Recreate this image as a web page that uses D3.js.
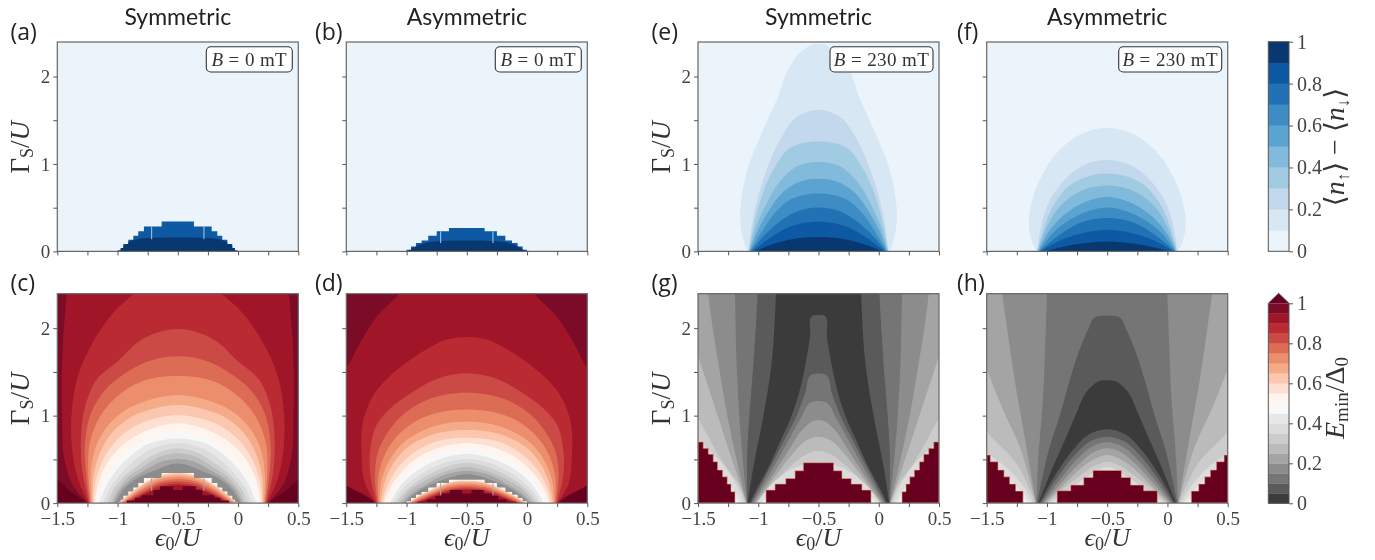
<!DOCTYPE html>
<html><head><meta charset="utf-8">
<script src="https://cdn.jsdelivr.net/npm/d3@7"></script>
<style>
html,body{margin:0;padding:0;background:#fff}
svg{display:block;filter:blur(0.35px)}
.serif{font-family:"Liberation Serif","DejaVu Serif",serif}
.sans{font-family:"Open Sans",sans-serif}
.title{font-family:"Lato",sans-serif}
</style></head><body><svg id="c" width="1375" height="560"></svg>
<script>
// ---------- tick labels & text ----------
const xTicks=[-1.5,-1.25,-1,-0.75,-0.5,-0.25,0,0.25,0.5];
const xLabelled=[-1.5,-1,-0.5,0,0.5];
const yTicks=[0,0.5,1,1.5,2];
const yLabelled=[0,1,2];
const cbarTicks=[0,0.2,0.4,0.6,0.8,1];
const titles=["Symmetric","Asymmetric","Symmetric","Asymmetric"];
const fieldLabels=["B","0 mT","230 mT"];
// ---------- colour levels ----------
const bluesPalette=["#ebf3fb","#d8e7f4","#c3d7ed","#a0cbe2","#82badb","#5ba3d0","#3d8cc3","#2171b5","#0e59a3","#08386f"];
const redGreyPalette=["#3b3b3b","#5a5a5a","#757575","#8c8c8c","#a4a4a4","#bbbbbb","#cccccc","#dcdcdc","#e8e8e8","#f8f8f8","#fff4ee","#fde0d1","#fbc8af","#f5ab88","#ec8e6c","#dd6c55","#cb4a45","#b92a33","#a01527","#7c0b27"];
const overColour="#67001f";
// ---------- spin polarisation: B = 0 (stepped dome and cap), values [eps0/U, GammaS/U] left half ----------
const domeA=[[-1.0,.01],[-.974,.038],[-.952,.084],[-.911,.133],[-.869,.179],[-.828,.229],[-.781,.286],[-.634,.343]];
const capA=[[-1.0,0],[-.93,.09],[-.85,.135],[-.7,.155],[-.5,.16]];
const domeB=[[-1.0,.02],[-.963,.057],[-.922,.095],[-.875,.126],[-.82,.179],[-.75,.229],[-.648,.267]];
const capB=[[-1.0,0],[-.92,.06],[-.84,.1],[-.7,.12],[-.5,.126]];
const sliverEps=[-.717,-.283];
// ---------- spin polarisation: B = 230 mT ----------
const contoursE=[
[.15,[[-1.091,0],[-1.124,.133],[-1.151,.40],[-1.138,.629],[-1.082,.971],[-.972,1.352],[-.847,1.733],[-.737,2.114],[-.626,2.305],[-.5,2.377]]],
[.25,[[-1.082,0],[-1.055,.286],[-1.008,.59],[-.93,.933],[-.82,1.276],[-.681,1.535],[-.5,1.619]]],
[.35,[[-1.08,0],[-1.04,.286],[-.972,.629],[-.875,.933],[-.737,1.181],[-.5,1.257]]],
[.45,[[-1.075,0],[-1.027,.248],[-.944,.514],[-.82,.8],[-.68,.971],[-.5,1.021]]],
[.55,[[-1.07,0],[-1.013,.21],[-.917,.457],[-.79,.686],[-.65,.8],[-.5,.83]]],
[.65,[[-1.067,0],[-.985,.19],[-.875,.419],[-.737,.59],[-.5,.663]]],
[.75,[[-1.06,0],[-.957,.171],[-.82,.343],[-.68,.457],[-.5,.503]]],
[.85,[[-1.05,0],[-.902,.152],[-.764,.267],[-.5,.339]]],
[.95,[[-1.03,0],[-.875,.084],[-.71,.141],[-.5,.164]]]];
const contoursF=[
[.15,[[-1.088,0],[-1.138,.171],[-1.151,.324],[-1.129,.552],[-1.046,.857],[-.894,1.162],[-.728,1.333],[-.5,1.413]]],
[.25,[[-1.082,0],[-1.06,.21],[-1.0,.514],[-.867,.8],[-.70,.983],[-.5,1.044]]],
[.35,[[-1.08,0],[-1.03,.248],[-.936,.552],[-.784,.781],[-.5,.891]]],
[.45,[[-1.077,0],[-1.01,.248],[-.894,.514],[-.728,.686],[-.5,.754]]],
[.55,[[-1.07,0],[-.983,.229],[-.839,.438],[-.673,.571],[-.5,.625]]],
[.65,[[-1.066,0],[-.95,.21],[-.81,.362],[-.5,.503]]],
[.75,[[-1.06,0],[-.894,.19],[-.728,.324],[-.5,.381]]],
[.85,[[-1.055,0],[-.84,.152],[-.673,.22],[-.5,.248]]],
[.95,[[-1.02,0],[-.784,.076],[-.5,.114]]]];
// ---------- minimum energy: B = 0 ----------
const contoursC=[
[.925,[[-1.25,0],[-1.37,.2],[-1.44,.5],[-1.46,1.0],[-1.46,1.6],[-1.44,2.1],[-1.40,2.5],[-1.2,2.9],[-.5,3.2]]],
[.875,[[-1.243,0],[-1.326,.263],[-1.379,.645],[-1.381,1.027],[-1.33,1.45],[-1.2,1.85],[-1.02,2.2],[-.855,2.4],[-.7,2.55],[-.5,2.62]]],
[.825,[[-1.237,0],[-1.29,.34],[-1.304,.72],[-1.27,1.1],[-1.17,1.42],[-1.0,1.62],[-.8,1.87],[-.5,1.99]]],
[.775,[[-1.229,0],[-1.262,.34],[-1.268,.72],[-1.215,1.05],[-1.1,1.3],[-.95,1.47],[-.75,1.62],[-.5,1.68]]],
[.725,[[-1.223,0],[-1.243,.34],[-1.229,.7],[-1.15,.98],[-1.02,1.2],[-.82,1.38],[-.5,1.454]]],
[.675,[[-1.215,0],[-1.223,.30],[-1.187,.62],[-1.09,.87],[-.94,1.06],[-.74,1.18],[-.5,1.237]]],
[.625,[[-1.207,0],[-1.2,.3],[-1.151,.56],[-1.05,.8],[-.88,.99],[-.7,1.08],[-.5,1.122]]],
[.575,[[-1.2,0],[-1.18,.263],[-1.118,.5],[-1.008,.72],[-.83,.9],[-.65,.98],[-.5,1.008]]],
[.525,[[-1.19,0],[-1.16,.225],[-1.09,.45],[-.97,.65],[-.79,.81],[-.62,.89],[-.5,.912]]],
[.475,[[-1.18,0],[-1.133,.187],[-1.05,.4],[-.925,.58],[-.75,.74],[-.6,.81],[-.5,.828]]],
[.425,[[-1.152,0],[-1.097,.187],[-1.008,.378],[-.883,.55],[-.73,.683],[-.5,.74]]],
[.375,[[-1.118,0],[-1.063,.168],[-.98,.32],[-.855,.492],[-.70,.626],[-.5,.683]]],
[.325,[[-1.085,0],[-1.035,.149],[-.947,.30],[-.828,.435],[-.672,.569],[-.5,.626]]],
[.275,[[-1.057,0],[-1.002,.149],[-.91,.30],[-.786,.416],[-.648,.53],[-.5,.569]]],
[.225,[[-1.035,0],[-.98,.149],[-.883,.282],[-.745,.397],[-.62,.48],[-.5,.504]]],
[.175,[[-1.02,0],[-.953,.149],[-.84,.282],[-.717,.359],[-.5,.454]]]];
const cornerC=[[-1.5,0],[-1.25,0],[-1.38,.12],[-1.5,.27]];
const innerC=[
[.625,[[-.99,0],[-.9,.11],[-.8,.21],[-.65,.315],[-.5,.345]]],
[.675,[[-.98,0],[-.89,.10],[-.79,.2],[-.65,.295],[-.5,.325]]],
[.725,[[-.97,0],[-.88,.09],[-.78,.185],[-.65,.27],[-.5,.3]]],
[.775,[[-.955,0],[-.87,.085],[-.77,.17],[-.65,.245],[-.5,.275]]],
[.825,[[-.94,0],[-.85,.08],[-.76,.15],[-.65,.22],[-.5,.25]]],
[.875,[[-.925,0],[-.84,.07],[-.75,.135],[-.65,.195],[-.5,.225]]],
[.925,[[-.91,0],[-.83,.065],[-.74,.125],[-.64,.17],[-.5,.205]]]];
const coreC=[[-.924,.03],[-.855,.06],[-.80,.09],[-.703,.15],[-.648,.194],[-.54,.15]];
const contoursD=[
[.925,[[-1.248,0],[-1.38,.12],[-1.55,.2],[-1.55,1.45],[-1.5,1.54],[-1.387,1.83],[-1.248,2.13],[-1.06,2.4],[-.9,2.8],[-.5,3.0]]],
[.875,[[-1.257,0],[-1.345,.225],[-1.373,.569],[-1.364,.912],[-1.29,1.2],[-1.179,1.4],[-1.027,1.58],[-.833,1.76],[-.667,1.87],[-.5,1.90]]],
[.825,[[-1.248,0],[-1.295,.263],[-1.298,.645],[-1.248,.9],[-1.138,1.08],[-.972,1.25],[-.751,1.42],[-.5,1.485]]],
[.775,[[-1.24,0],[-1.262,.30],[-1.234,.6],[-1.151,.82],[-1.013,1.03],[-.833,1.18],[-.5,1.263]]],
[.725,[[-1.234,0],[-1.234,.30],[-1.179,.56],[-1.082,.76],[-.944,.92],[-.75,1.03],[-.5,1.07]]],
[.675,[[-1.226,0],[-1.207,.263],[-1.138,.5],[-1.027,.69],[-.861,.83],[-.68,.91],[-.5,.93]]],
[.625,[[-1.215,0],[-1.18,.244],[-1.11,.454],[-1.0,.63],[-.833,.76],[-.5,.836]]],
[.575,[[-1.204,0],[-1.151,.225],[-1.077,.397],[-.958,.56],[-.806,.68],[-.5,.748]]],
[.525,[[-1.187,0],[-1.124,.206],[-1.04,.359],[-.93,.5],[-.778,.61],[-.5,.683]]],
[.475,[[-1.165,0],[-1.096,.187],[-1.005,.34],[-.889,.462],[-.737,.561],[-.5,.618]]],
[.425,[[-1.138,0],[-1.068,.168],[-.977,.30],[-.861,.416],[-.709,.511],[-.5,.561]]],
[.375,[[-1.11,0],[-1.04,.149],[-.944,.271],[-.833,.37],[-.681,.462],[-.5,.504]]],
[.325,[[-1.088,0],[-1.013,.13],[-.916,.244],[-.806,.332],[-.653,.424],[-.5,.462]]],
[.275,[[-1.06,0],[-.985,.13],[-.889,.225],[-.764,.313],[-.612,.389],[-.5,.416]]],
[.225,[[-1.04,0],[-.958,.111],[-.847,.206],[-.722,.302],[-.5,.37]]],
[.175,[[-1.021,0],[-.93,.111],[-.806,.206],[-.667,.282],[-.5,.332]]]];
const cornerD=[[-1.5,0],[-1.25,0],[-1.37,.1],[-1.5,.2]];
const innerD=[
[.625,[[-.99,0],[-.9,.08],[-.8,.15],[-.65,.235],[-.5,.255]]],
[.675,[[-.98,0],[-.89,.075],[-.79,.14],[-.65,.22],[-.5,.24]]],
[.725,[[-.97,0],[-.88,.07],[-.78,.13],[-.65,.2],[-.5,.22]]],
[.775,[[-.955,0],[-.87,.06],[-.77,.12],[-.65,.18],[-.5,.2]]],
[.825,[[-.94,0],[-.85,.055],[-.76,.11],[-.65,.16],[-.5,.18]]],
[.875,[[-.925,0],[-.84,.05],[-.75,.1],[-.65,.145],[-.5,.165]]],
[.925,[[-.91,0],[-.83,.045],[-.74,.09],[-.64,.13],[-.5,.15]]]];
const coreD=[[-.91,.015],[-.83,.04],[-.76,.08],[-.71,.11],[-.64,.149],[-.54,.11]];
// ---------- minimum energy: B = 230 mT ----------
const contoursG=[
[.425,[[-1.16,0],[-1.22,.1],[-1.35,.33],[-1.6,.8],[-1.7,3.5]]],
[.375,[[-1.135,0],[-1.19,.12],[-1.33,.4],[-1.6,.75],[-1.7,3.5]]],
[.325,[[-1.115,0],[-1.15,.12],[-1.28,.42],[-1.5,.72],[-1.6,.85],[-1.7,3.5]]],
[.275,[[-1.102,0],[-1.152,.187],[-1.29,.458],[-1.5,.97],[-1.6,1.2],[-1.7,3.5]]],
[.225,[[-1.096,0],[-1.207,.45],[-1.337,1.0],[-1.5,1.683],[-1.6,2.1],[-1.7,3.5]]],
[.175,[[-1.096,0],[-1.18,.5],[-1.257,1.0],[-1.331,1.6],[-1.367,1.9],[-1.414,2.393],[-1.43,2.8]]],
[.125,[[-1.093,0],[-1.138,.645],[-1.157,1.0],[-1.18,1.6],[-1.193,2.393],[-1.2,2.8]]],
[.075,[[-1.09,0],[-1.09,.645],[-1.074,1.0],[-1.04,1.6],[-1.005,2.393],[-.99,2.8]]],
[.025,[[-1.088,0],[-1.04,.416],[-.958,.99],[-.889,1.6],[-.853,2.393],[-.84,2.8]]],
[.075,[[-1.068,0],[-1.027,.12],[-.93,.37],[-.82,.7],[-.723,1.0],[-.654,1.3],[-.606,1.6],[-.57,1.9],[-.545,2.145],[-.5,2.15]]],
[.125,[[-1.057,0],[-.916,.37],[-.792,.7],[-.681,1.0],[-.612,1.25],[-.556,1.47],[-.5,1.481]]],
[.175,[[-1.046,0],[-.889,.37],[-.764,.68],[-.654,.95],[-.556,1.155],[-.5,1.168]]],
[.225,[[-1.035,0],[-.875,.33],[-.736,.63],[-.626,.85],[-.543,.94],[-.5,.95]]],
[.275,[[-1.02,0],[-.861,.3],[-.723,.55],[-.598,.72],[-.5,.76]]],
[.325,[[-1.0,0],[-.85,.26],[-.71,.45],[-.6,.56],[-.5,.595]]],
[.375,[[-1.013,0],[-.9,.2],[-.7,.4],[-.5,.47]]],
[.425,[[-.99,0],[-.9,.12],[-.5,.3]]],
[.475,[[-.97,0],[-.9,.07],[-.5,.2]]]];
const coreG=[[-.936,.149],[-.861,.218],[-.772,.282],[-.695,.37],[-.626,.462]];
const cornerG=[[-1.5,.70],[-1.456,.626],[-1.414,.56],[-1.373,.473],[-1.337,.378],[-1.295,.30],[-1.257,.218],[-1.226,.13],[-1.193,0]];
const contoursH=[
[.425,[[-1.16,0],[-1.22,.08],[-1.35,.25],[-1.6,.6],[-1.7,3.5]]],
[.375,[[-1.135,0],[-1.19,.1],[-1.33,.3],[-1.6,.65],[-1.7,3.5]]],
[.325,[[-1.115,0],[-1.15,.1],[-1.28,.33],[-1.6,.7],[-1.7,3.5]]],
[.275,[[-1.093,0],[-1.254,.454],[-1.5,.817],[-1.6,1.0],[-1.7,3.5]]],
[.225,[[-1.093,0],[-1.226,.645],[-1.364,1.065],[-1.5,1.53],[-1.6,1.9],[-1.7,3.5]]],
[.175,[[-1.09,0],[-1.185,.76],[-1.268,1.408],[-1.337,2.057],[-1.37,2.397],[-1.38,2.8]]],
[.125,[[-1.085,0],[-1.074,.454],[-1.032,1.218],[-1.01,1.98],[-.999,2.397],[-.99,2.8]]],
[.075,[[-1.082,0],[-.977,.645],[-.894,1.0],[-.811,1.408],[-.728,1.76],[-.66,1.98],[-.6,2.125],[-.5,2.141]]],
[.025,[[-1.071,0],[-.95,.416],[-.839,.76],[-.756,1.027],[-.659,1.294],[-.561,1.397],[-.5,1.405]]],
[.075,[[-1.06,0],[-.922,.34],[-.784,.607],[-.659,.779],[-.5,.844]]],
[.125,[[-1.049,0],[-.908,.30],[-.77,.55],[-.632,.714],[-.5,.76]]],
[.175,[[-1.038,0],[-.894,.263],[-.756,.492],[-.618,.653],[-.5,.695]]],
[.225,[[-1.027,0],[-.88,.23],[-.74,.44],[-.61,.585],[-.5,.626]]],
[.275,[[-1.01,0],[-.865,.2],[-.725,.39],[-.6,.51],[-.5,.55]]],
[.325,[[-1.0,0],[-.85,.18],[-.71,.33],[-.6,.43],[-.5,.473]]],
[.375,[[-.98,0],[-.85,.12],[-.7,.27],[-.5,.41]]],
[.425,[[-.965,0],[-.88,.05],[-.7,.2],[-.5,.3]]],
[.475,[[-.95,0],[-.9,.02],[-.7,.1],[-.5,.2]]]];
const coreH=[[-.916,.141],[-.803,.206],[-.695,.294],[-.618,.374]];
const cornerH=[[-1.5,.55],[-1.47,.473],[-1.406,.378],[-1.356,.30],[-1.309,.218],[-1.259,.137],[-1.198,0]];

// ---------- layout ----------
const W=241, rowTop=[42,293.7], H=209.4;
const colLeft=[57.3,346.3,698,986.7];
const svg=d3.select("#c");
const defs=svg.append("defs");
const blues=d3.scaleQuantize().domain([0,1]).range(bluesPalette);
const redQ=d3.scaleQuantize().domain([0,1]).range(redGreyPalette);
const reds=v=>v>1?overColour:redQ(v);
const mirror=p=>[-1-p[0],p[1]];
const stairs=list=>{const out=[[list[0][0],0]];list.forEach((d,i)=>{out.push(d);if(i<list.length-1)out.push([list[i+1][0],d[1]]);});return out;};
const both=left=>{const last=left[left.length-1];if(last[0]===-.5){const l=left.slice(0,-1);return l.concat([last],l.slice().reverse().map(mirror));}return left.concat(left.slice().reverse().map(mirror));};

const panels=[
{k:"a",c:0,r:0,scale:blues,base:.05,arches:[],dome:domeA,domeV:.85,inner:[[.95,capA]],sliver:[.14,.285],sliverC:"#a9cbe6",field:1,lx:10.5},
{k:"b",c:1,r:0,scale:blues,base:.05,arches:[],dome:domeB,domeV:.85,inner:[[.95,capB]],sliver:[.095,.229],sliverC:"#a9cbe6",field:1,lx:315},
{k:"c",c:0,r:1,scale:reds,base:.975,arches:contoursC,corner:cornerC,dome:domeA,domeV:.525,inner:innerC,core:coreC,sliver:[.14,.3],sliverC:"#a8a8a8",lx:10.5},
{k:"d",c:1,r:1,scale:reds,base:.975,arches:contoursD,corner:cornerD,dome:domeB,domeV:.525,inner:innerD,core:coreD,sliver:[.09,.235],sliverC:"#a8a8a8",lx:315},
{k:"e",c:2,r:0,scale:blues,base:.05,arches:contoursE,field:2,lx:651.5},
{k:"f",c:3,r:0,scale:blues,base:.05,arches:contoursF,field:2,lx:957},
{k:"g",c:2,r:1,scale:reds,base:.475,arches:contoursG,stair:cornerG,core:coreG,lx:651.5},
{k:"h",c:3,r:1,scale:reds,base:.475,arches:contoursH,stair:cornerH,core:coreH,lx:957}
];
const fs="Liberation Serif";
panels.forEach(p=>{
  const x0=colLeft[p.c], y0=rowTop[p.r];
  const x=d3.scaleLinear().domain([-1.5,.5]).range([x0,x0+W]);
  const y=d3.scaleLinear().domain([0,H/87.45]).range([y0+H,y0]);
  const smooth=d3.line().x(d=>x(d[0])).y(d=>y(d[1])).curve(d3.curveCatmullRom.alpha(1));
  const straight=d3.line().x(d=>x(d[0])).y(d=>y(d[1]));
  defs.append("clipPath").attr("id","clip"+p.k).append("rect").attr("x",x0).attr("y",y0).attr("width",W).attr("height",H);
  const g=svg.append("g").attr("clip-path","url(#clip"+p.k+")");
  g.append("rect").attr("x",x0).attr("y",y0).attr("width",W).attr("height",H).attr("fill",p.scale(p.base));
  g.selectAll("path.arch").data(p.arches).join("path").attr("class","arch")
    .attr("d",d=>smooth(both(d[1]))+"Z").attr("fill",d=>p.scale(d[0]));
  if(p.corner){[p.corner,p.corner.map(mirror)].forEach(c=>g.append("path").attr("d",straight(c)+"Z").attr("fill",overColour));}
  if(p.dome){
    const domePts=both(stairs(p.dome));
    defs.append("clipPath").attr("id","dome"+p.k).append("path").attr("d",straight(domePts)+"Z");
    g.append("path").attr("d",straight(domePts)+"Z").attr("fill",p.scale(p.domeV));
    const gi=g.append("g").attr("clip-path","url(#dome"+p.k+")");
    gi.selectAll("path").data(p.inner).join("path").attr("d",d=>smooth(both(d[1]))+"Z").attr("fill",d=>p.scale(d[0]));
    if(p.core) gi.append("path").attr("d",straight(both(stairs(p.core)))+"Z").attr("fill",overColour);
    sliverEps.forEach(e=>g.append("line").attr("x1",x(e)).attr("x2",x(e)).attr("y1",y(p.sliver[0])).attr("y2",y(p.sliver[1])).attr("stroke",p.sliverC).attr("stroke-width",1));
  }
  if(p.stair){
    const left=[[-1.5,0]]; p.stair.forEach((d,i)=>{left.push(d); if(i<p.stair.length-1) left.push([p.stair[i+1][0],d[1]]);});
    [left,left.map(mirror)].forEach(c=>g.append("path").attr("d",straight(c)+"Z").attr("fill",overColour).attr("stroke","#f0a080").attr("stroke-width",.6));
    g.append("path").attr("d",straight(both(stairs(p.core)))+"Z").attr("fill",overColour).attr("stroke","#f0a080").attr("stroke-width",.6);
  }
  // frame
  svg.append("rect").attr("x",x0).attr("y",y0).attr("width",W).attr("height",H).attr("fill","none").attr("stroke","#666").attr("stroke-width",1.2);
  // axes
  const ax=svg.append("g").attr("transform",`translate(0,${y0+H})`).attr("class","serif")
    .call(d3.axisBottom(x).tickValues(xTicks).tickSize(4).tickPadding(4).tickFormat(v=>(p.r===1&&xLabelled.includes(v))?d3.format("")(v).replace("-","\u2212"):""));
  const ay=svg.append("g").attr("transform",`translate(${x0},0)`).attr("class","serif")
    .call(d3.axisLeft(y).tickValues(yTicks).tickSize(4).tickPadding(3).tickFormat(v=>(p.c%2===0&&yLabelled.includes(v))?String(v):""));
  [ax,ay].forEach(a=>{a.select(".domain").remove();a.selectAll("line").attr("stroke","#555").attr("stroke-width",1);a.selectAll("text").attr("fill","#444").attr("font-size",19).attr("font-family",fs);});
  // panel letter
  svg.append("text").attr("class","sans").attr("x",p.lx).attr("y",y0-2.5).attr("font-size",23).attr("fill","#222").text("("+p.k+")");
  // field box
  if(p.field){
    const w=p.field===1?86:103;
    svg.append("rect").attr("x",x0+W-6-w).attr("y",y0+4.7).attr("width",w).attr("height",25.3).attr("rx",4.5).attr("fill","#fff").attr("stroke","#333").attr("stroke-width",1.1);
    const t=svg.append("text").attr("class","serif").attr("x",x0+W-6-w/2).attr("y",y0+23.5).attr("text-anchor","middle").attr("font-size",19).attr("letter-spacing",.4).attr("fill","#333");
    t.append("tspan").attr("font-style","italic").text(fieldLabels[0]);
    t.append("tspan").text(" = "+fieldLabels[p.field]);
  }
  // labels
  if(p.r===0){
    svg.append("text").attr("class","title").attr("x",x0+W/2).attr("y",25).attr("text-anchor","middle").attr("font-size",23).attr("fill","#222").text(titles[p.c]);
  } else {
    const t=svg.append("text").attr("class","serif").attr("x",x0+W/2).attr("y",y0+H+43).attr("text-anchor","middle").attr("font-size",26).attr("fill","#333");
    t.append("tspan").attr("font-style","italic").text("\u03f5");
    t.append("tspan").attr("font-size",18).attr("dy",4).text("0");
    t.append("tspan").attr("dy",-4).text("/");
    t.append("tspan").attr("font-style","italic").text("U");
  }
  if(p.c%2===0){
    const t=svg.append("text").attr("class","serif").attr("transform",`translate(${x0-28},${y0+H/2+.5}) rotate(-90)`).attr("text-anchor","middle").attr("font-size",27).attr("fill","#333");
    t.append("tspan").text("\u0393");
    t.append("tspan").attr("font-size",18).attr("dy",4).text("S");
    t.append("tspan").attr("dy",-4).text("/");
    t.append("tspan").attr("font-style","italic").text("U");
  }
});
// ---------- colour bars ----------
const cbX=1268.3, cbW=20.7;
function bar(top,bottom,palette){
  const y=d3.scaleLinear().domain([0,1]).range([bottom,top]);
  const step=1/palette.length;
  svg.append("g").selectAll("rect").data(palette).join("rect")
    .attr("x",cbX).attr("width",cbW).attr("y",(d,i)=>y((i+1)*step)).attr("height",(bottom-top)*step+.3).attr("fill",d=>d);
  const a=svg.append("g").attr("transform",`translate(${cbX+cbW},0)`).attr("class","serif")
    .call(d3.axisRight(y).tickValues(cbarTicks).tickSize(4).tickPadding(4).tickFormat(v=>String(v)));
  a.select(".domain").remove();
  a.selectAll("line").attr("stroke","#555");
  a.selectAll("text").attr("fill","#444").attr("font-size",20).attr("font-family",fs);
  return y;
}
bar(41.7,251.3,bluesPalette);
svg.append("rect").attr("x",cbX).attr("y",41.7).attr("width",cbW).attr("height",209.6).attr("fill","none").attr("stroke","#555").attr("stroke-width",1);
bar(303.3,503.3,redGreyPalette);
svg.append("path").attr("d",d3.line()([[cbX,303.3],[cbX+cbW/2,293.3],[cbX+cbW,303.3]])+"Z").attr("fill",overColour);
svg.append("path").attr("d",d3.line()([[cbX,503.3],[cbX,303.3],[cbX+cbW/2,293.3],[cbX+cbW,303.3],[cbX+cbW,503.3]])+"Z").attr("fill","none").attr("stroke","#555").attr("stroke-width",1);
const t1=svg.append("text").attr("class","serif").attr("transform","translate(1344,147) rotate(-90)").attr("text-anchor","middle").attr("font-size",28).attr("fill","#333");
t1.append("tspan").text("\u27e8");t1.append("tspan").attr("font-style","italic").text("n");t1.append("tspan").attr("font-size",17).attr("dy",5).text("\u2191");t1.append("tspan").attr("dy",-5).text("\u27e9 \u2212 \u27e8");t1.append("tspan").attr("font-style","italic").text("n");t1.append("tspan").attr("font-size",17).attr("dy",5).text("\u2193");t1.append("tspan").attr("dy",-5).text("\u27e9");
const t2=svg.append("text").attr("class","serif").attr("transform","translate(1344,398) rotate(-90)").attr("text-anchor","middle").attr("font-size",28).attr("fill","#333");
t2.append("tspan").attr("font-style","italic").text("E");t2.append("tspan").attr("font-size",19).attr("dy",4).text("min");t2.append("tspan").attr("dy",-4).text("/\u0394");t2.append("tspan").attr("font-size",19).attr("dy",4).text("0");
</script></body></html>
